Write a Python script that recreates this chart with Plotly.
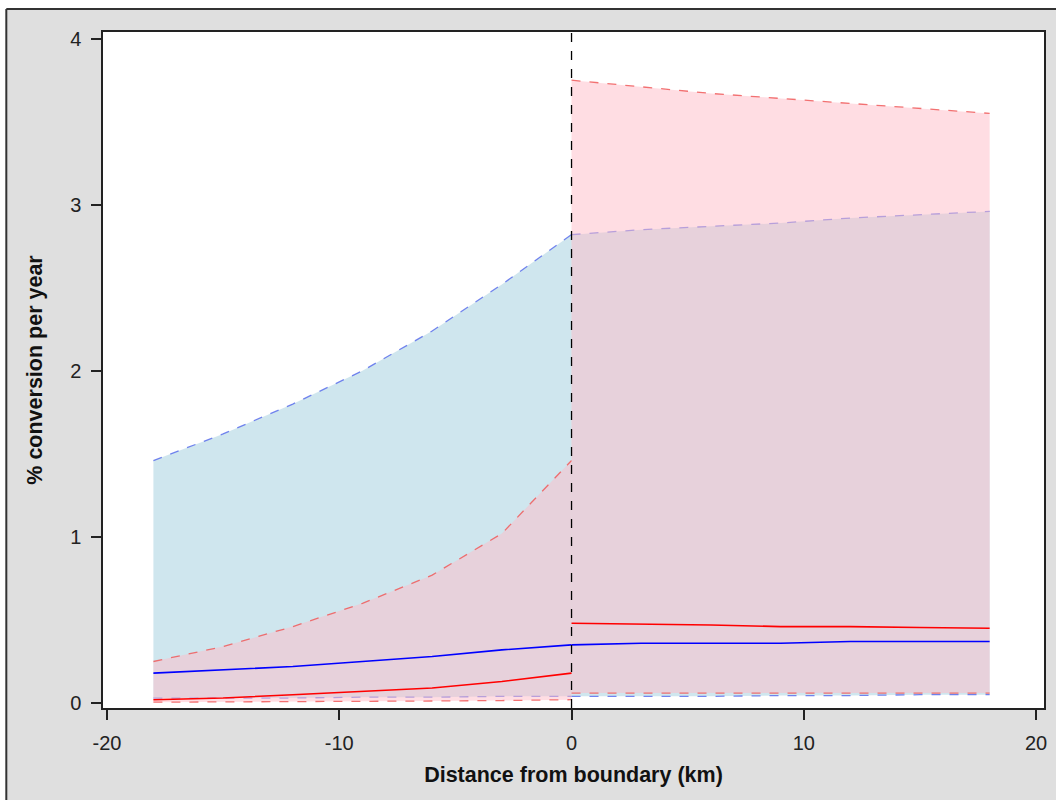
import plotly.graph_objects as go

# Left of boundary (km)
x_left = [-18, -15, -12, -9, -6, -3, 0]
blue_up_left = [1.46, 1.62, 1.80, 2.00, 2.24, 2.52, 2.82]
blue_mean_left = [0.18, 0.20, 0.22, 0.25, 0.28, 0.32, 0.35]
blue_lo_left = [0.03, 0.03, 0.03, 0.035, 0.035, 0.04, 0.04]
red_up_left = [0.25, 0.34, 0.46, 0.60, 0.77, 1.02, 1.46]
red_mean_left = [0.02, 0.03, 0.05, 0.07, 0.09, 0.13, 0.18]
red_lo_left = [0.005, 0.006, 0.008, 0.01, 0.012, 0.015, 0.02]

# Right of boundary (km)
x_right = [0, 3, 6, 9, 12, 15, 18]
blue_up_right = [2.82, 2.85, 2.87, 2.89, 2.92, 2.94, 2.96]
blue_mean_right = [0.35, 0.36, 0.36, 0.36, 0.37, 0.37, 0.37]
blue_lo_right = [0.04, 0.04, 0.04, 0.045, 0.045, 0.05, 0.05]
red_up_right = [3.75, 3.71, 3.67, 3.64, 3.61, 3.58, 3.55]
red_mean_right = [0.48, 0.475, 0.47, 0.46, 0.46, 0.455, 0.45]
red_lo_right = [0.06, 0.06, 0.06, 0.06, 0.06, 0.06, 0.06]

x_ticks = [-20, -10, 0, 10, 20]
y_ticks = [0, 1, 2, 3, 4]

BLUE_FILL = "rgba(160,205,222,0.5)"
RED_FILL = "rgba(255,187,199,0.5)"
BLUE_DASH = "rgba(90,110,235,0.85)"
RED_DASH = "rgba(240,90,90,0.85)"

fig = go.Figure()

def band(x, lo, up, fill, dash_color):
    fig.add_trace(go.Scatter(x=x, y=lo, mode="lines",
                             line=dict(color=dash_color, width=1.3, dash="dash"),
                             showlegend=False, hoverinfo="skip"))
    fig.add_trace(go.Scatter(x=x, y=up, mode="lines", fill="tonexty", fillcolor=fill,
                             line=dict(color=dash_color, width=1.3, dash="dash"),
                             showlegend=False, hoverinfo="skip"))

band(x_left, blue_lo_left, blue_up_left, BLUE_FILL, BLUE_DASH)
band(x_right, blue_lo_right, blue_up_right, BLUE_FILL, BLUE_DASH)
band(x_left, red_lo_left, red_up_left, RED_FILL, RED_DASH)
band(x_right, red_lo_right, red_up_right, RED_FILL, RED_DASH)

for x, y, c in [(x_left, blue_mean_left, "#0000ff"), (x_right, blue_mean_right, "#0000ff"),
                (x_left, red_mean_left, "#ff0000"), (x_right, red_mean_right, "#ff0000")]:
    fig.add_trace(go.Scatter(x=x, y=y, mode="lines", line=dict(color=c, width=1.6),
                             showlegend=False, hoverinfo="skip"))

# vertical boundary line
fig.add_shape(type="line", xref="x", yref="paper", x0=0, x1=0, y0=0, y1=1,
              line=dict(color="black", width=1.3, dash="dash"), layer="above")

W, H = 1056, 800
L, R, T, B = 103, 9, 32, 92
pw, ph = W - L - R, H - T - B

def px_x(p):
    return (p - L) / pw

def px_y(p):
    return 1 - (p - T) / ph

# outer frame: white strips and dark border
fig.add_shape(type="rect", xref="paper", yref="paper", x0=px_x(-5), x1=px_x(6),
              y0=px_y(810), y1=px_y(-5), fillcolor="white", line=dict(width=0), layer="above")
fig.add_shape(type="rect", xref="paper", yref="paper", x0=px_x(-5), x1=px_x(1070),
              y0=px_y(9), y1=px_y(-5), fillcolor="white", line=dict(width=0), layer="above")
fig.add_shape(type="line", xref="paper", yref="paper", x0=px_x(6), x1=px_x(1070),
              y0=px_y(9), y1=px_y(9), line=dict(color="#333333", width=2), layer="above")
fig.add_shape(type="line", xref="paper", yref="paper", x0=px_x(6), x1=px_x(6),
              y0=px_y(9), y1=px_y(810), line=dict(color="#333333", width=2), layer="above")

font_tick = dict(family="Liberation Sans", size=20, color="#222222")
fig.update_layout(
    width=W, height=H, autosize=False,
    margin=dict(l=L, r=R, t=T, b=B),
    paper_bgcolor="#dfdfdf",
    plot_bgcolor="white",
    xaxis=dict(range=[-20.17, 20.34], tickvals=x_ticks, ticktext=[str(v) for v in x_ticks],
               ticks="outside", ticklen=10, tickwidth=1.5, tickcolor="#222222",
               ticklabelstandoff=6,
               showline=True, linecolor="#222222", linewidth=1.5, mirror=True,
               showgrid=False, zeroline=False, tickfont=font_tick,
               title=dict(text="<b>Distance from boundary (km)</b>",
                          font=dict(family="Liberation Sans", size=21.5, color="#111111"),
                          standoff=14)),
    yaxis=dict(range=[-0.03, 4.04], tickvals=y_ticks, ticktext=[str(v) for v in y_ticks],
               ticks="outside", ticklen=10, tickwidth=1.5, tickcolor="#222222",
               ticklabelstandoff=6,
               showline=True, linecolor="#222222", linewidth=1.5, mirror=True,
               showgrid=False, zeroline=False, tickfont=font_tick,
               title=dict(text="<b>% conversion per year</b>",
                          font=dict(family="Liberation Sans", size=21.5, color="#111111"),
                          standoff=22)),
)

fig.write_html("out.html",
               config={"displayModeBar": False, "responsive": False},
               default_width="1056px", default_height="800px",
               post_script="document.body.style.margin='0';document.body.style.padding='0';document.body.style.overflow='hidden';")
